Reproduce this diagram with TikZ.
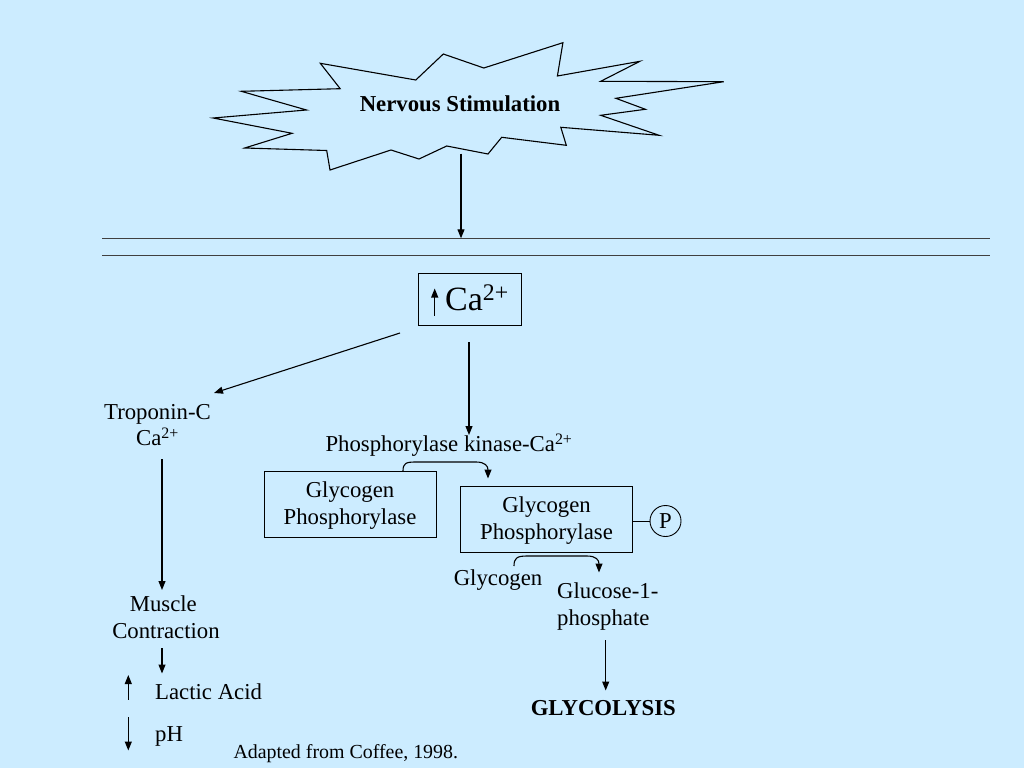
\documentclass[tikz,border=0pt]{standalone}
\usepackage{fontspec}
\setmainfont{Liberation Serif}
\usetikzlibrary{arrows.meta}
\definecolor{bgblue}{RGB}{204,236,255}
\newcommand\mysize{\fontsize{22.76}{27}\selectfont}
\newcommand\credsize{\fontsize{19.9}{23}\selectfont}
\newcommand\casize{\fontsize{34}{40}\selectfont}
\begin{document}
\begin{tikzpicture}[x=1pt,y=-1pt,
  txt/.style={font=\mysize, inner sep=0pt, anchor=base},
  arr/.style={line width=1.1pt, -{Triangle[length=9pt,width=7pt]}},
  boxed/.style={draw, line width=0.9pt, inner sep=0pt, font=\mysize, align=center},
  membrane/.style={line width=1.3pt, draw=black!75},
]
\fill[bgblue] (0,0) rectangle (1024,768);
\useasboundingbox (0,0) rectangle (1024,768);

% starburst
\draw[line width=1.1pt, fill=bgblue, line join=miter]
 (320.3,63.3) -- (415.8,80) -- (443.3,54) -- (483.8,68) -- (562.9,42.7)
 -- (557.4,76) -- (639.9,61.3) -- (600.7,81.3) -- (723.7,81.7) -- (615.8,98.3)
 -- (645.4,109.3) -- (600.7,115.3) -- (659.1,135.3) -- (560.8,127.3) -- (566.3,145.3)
 -- (501.7,137.3) -- (488,154) -- (446.7,146) -- (419,159) -- (391,150)
 -- (330,170) -- (326.7,150.5) -- (244.7,148) -- (292.1,133.3) -- (213.1,118)
 -- (306.5,110) -- (241.2,91.3) -- (340.2,88.7) -- cycle;
\node[txt, font=\mysize\bfseries] (nerv) at (460,111.7) {Nervous Stimulation};

% membrane
\coordinate (m1l) at (102,238.3); \coordinate (m1r) at (990,238.3);
\coordinate (m2l) at (102,255.3); \coordinate (m2r) at (990,255.3);
\draw[membrane] (m1l) -- (m1r);
\draw[membrane] (m2l) -- (m2r);
\coordinate (nervout) at (461,153.5);
\coordinate (memin) at (461,238.3);
\draw[arr] (nervout) -- (memin);

% Ca box
\node[boxed, minimum width=103pt, minimum height=52pt] (cabox) at (469.5,299) {};
\node[inner sep=0pt, anchor=base west, font=\casize] (catext) at (445,310) {Ca\textsuperscript{2+}};
\coordinate (caarrB) at (434.7,315.5);
\coordinate (caarrT) at (434.7,288.5);
\draw[arr] (caarrB) -- (caarrT);

% left branch
\coordinate (caleft) at (400,333);
\coordinate (tropin) at (214,393);
\draw[arr] (caleft) -- (tropin);
\node[txt] (trop1) at (157.5,419.5) {Troponin-C};
\node[txt] (trop2) at (157.5,445.7) {Ca\textsuperscript{2+}};
\coordinate (tropout) at (162,459);
\coordinate (musin) at (162,590);
\draw[arr] (tropout) -- (musin);
\node[txt] (mus1) at (163.3,611.7) {Muscle};
\node[txt] (mus2) at (166,638.3) {Contraction};
\coordinate (musout) at (162,648);
\coordinate (lacin) at (162,673.5);
\draw[arr] (musout) -- (lacin);
\node[txt, anchor=base west] (lactic) at (155,699.3) {Lactic Acid};
\coordinate (upB) at (128.3,699.5);
\coordinate (upT) at (128.3,675);
\draw[arr] (upB) -- (upT);
\node[txt, anchor=base west] (ph) at (155,741) {pH};
\coordinate (dnT) at (128.3,717);
\coordinate (dnB) at (128.3,750.5);
\draw[arr] (dnT) -- (dnB);
\node[inner sep=0pt, anchor=base west, font=\credsize] (credit) at (233.3,758.3) {Adapted from Coffee, 1998.};

% right branch
\coordinate (cadown) at (469,342);
\coordinate (kinin) at (469,435);
\draw[arr] (cadown) -- (kinin);
\node[txt] (kinase) at (449,451.7) {Phosphorylase kinase-Ca\textsuperscript{2+}};

\node[boxed, minimum width=172pt, minimum height=66pt] (gp1) at (350,504) {\rule{0pt}{19pt}Glycogen\\Phosphorylase};
\node[boxed, minimum width=171.5pt, minimum height=66pt] (gp2) at (546.5,519) {\rule{0pt}{19pt}Glycogen\\Phosphorylase};
\node[draw, circle, line width=0.9pt, minimum size=31pt, inner sep=0pt, font=\mysize] (pcirc) at (665.5,521) {P};
\draw[line width=0.9pt] (gp2.east |- pcirc.west) -- (pcirc.west);

\coordinate (c1s) at (403,471);
\coordinate (c1e) at (488,478.5);
\draw[arr] (c1s) .. controls (403,463) and (406,462) .. (416,462) -- (476,462)
  .. controls (485,462) and (488,466) .. (c1e);

\coordinate (c2s) at (514,566);
\coordinate (c2e) at (599,572.5);
\draw[arr] (c2s) .. controls (514,558) and (517,556) .. (527,556) -- (587,556)
  .. controls (596,556) and (599,560) .. (c2e);

\node[txt] (glyc) at (498,585.7) {Glycogen};
\node[txt, anchor=base west] (g1p1) at (557,598.3) {Glucose-1-};
\node[txt, anchor=base west] (g1p2) at (557,625) {phosphate};
\coordinate (g1pout) at (605.7,640);
\coordinate (glyin) at (605.7,690.5);
\draw[arr] (g1pout) -- (glyin);
\node[txt, font=\mysize\bfseries] (glycolysis) at (603.3,715) {GLYCOLYSIS};
\end{tikzpicture}
\end{document}
